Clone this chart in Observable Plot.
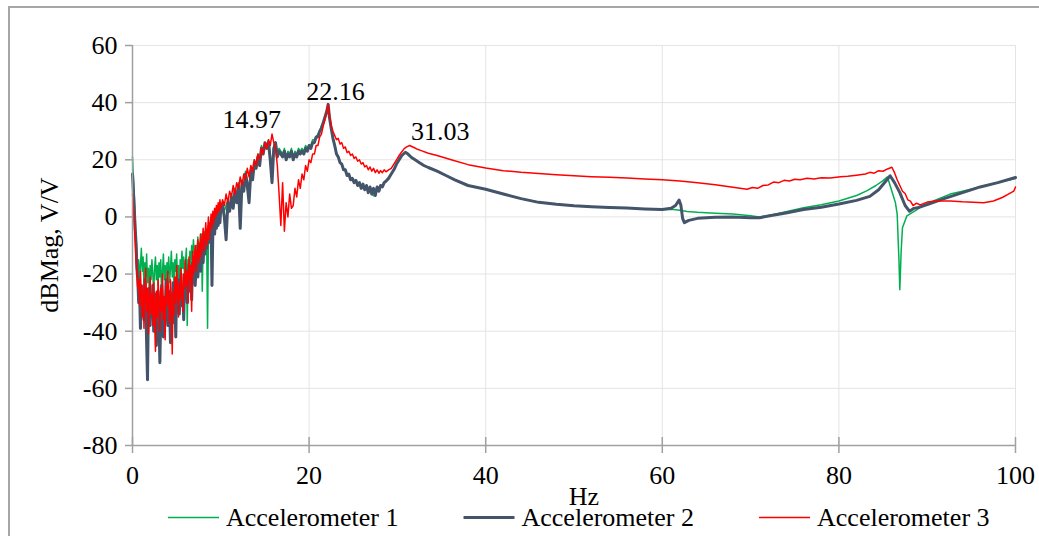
<!DOCTYPE html>
<html>
<head>
<meta charset="utf-8">
<script src="https://cdn.jsdelivr.net/npm/d3@7"></script>
<script src="https://cdn.jsdelivr.net/npm/@observablehq/plot@0.6"></script>
<style>
  html, body { margin: 0; padding: 0; background: #ffffff; }
  #wrap { position: relative; width: 1039px; height: 536px; overflow: hidden; }
  #frame { position: absolute; left: 8px; top: 6px; width: 1100px; height: 600px;
           border-left: 2px solid #a6a6a6; border-top: 2px solid #a6a6a6; pointer-events: none; }
  #chart { position: absolute; left: 0; top: 0; }
</style>
</head>
<body>
<div id="wrap"><div id="chart"></div><div id="frame"></div></div>
<script>
// ---------------- data ----------------
const seriesNames = ["Accelerometer 1", "Accelerometer 2", "Accelerometer 3"];
const seriesColors = ["#00b050", "#44546a", "#ff0000"];
const seriesWidths = [1.5, 3, 1.5];

const xTicks = [0, 20, 40, 60, 80, 100];
const yTicks = [-80, -60, -40, -20, 0, 20, 40, 60];

const xLabel = "Hz";
const yLabel = "dBMag, V/V";

const peakLabels = ["14.97", "22.16", "31.03"];
const peakLabelHz = [13.5, 23.0, 34.85];
const peakLabelDb = [31.0, 41.1, 27.1];

// low-frequency band, sampled every 0.1 Hz from 0 Hz
const lowGrid = { startHz: 0, stepHz: 0.1 };
const acc1Low = [
  21, 14, 8, 0, -8, -12, -20, -15, -22, -17,
  -11, -19, -14, -24, -16, -21, -13, -23, -18, -26,
  -17, -22, -15, -20, -27, -18, -14, -22, -17, -24,
  -16, -21, -15, -28, -19, -13, -22, -17, -25, -16,
  -20, -14, -23, -18, -12, -21, -16, -24, -15, -19,
  -13, -22, -17, -30, -15, -20, -12, -18, -14, -21,
  -16, -11, -38, -15, -19, -12, -17, -10, -15, -8,
  -13, -18, -10, -14, -7, -12, -9, -15, -6, -26,
  -10, -5, -11, -4, -8, -39, -6, -2, -7, -1,
  -5, 0, -4, 2, -3, 1, -2, 3, 0, 4,
  1
];
const acc2Low = [
  15, 9, 3, -4, -9, -18, -22, -30, -26, -39,
  -24, -33, -28, -36, -22, -30, -44, -57, -31, -25,
  -38, -29, -33, -24, -40, -30, -27, -45, -32, -26,
  -36, -51, -34, -24, -31, -42, -28, -35, -22, -33,
  -38, -26, -31, -44, -27, -32, -23, -37, -29, -42,
  -25, -30, -22, -34, -27, -20, -31, -25, -36, -21,
  -27, -19, -30, -22, -17, -26, -20, -29, -16, -22,
  -14, -24, -18, -12, -21, -15, -10, -19, -13, -8,
  -16, -9, -13, -6, -11, -5, -9, -3, -8, -2,
  -24, -5, -1, -6, 0, -4, 2, -3, 1, -2,
  3
];
const acc3Low = [
  8, 4, -2, -8, -15, -20, -25, -22, -31, -19,
  -28, -35, -24, -39, -27, -18, -33, -25, -41, -29,
  -21, -34, -27, -38, -23, -31, -47, -26, -35, -22,
  -30, -40, -25, -33, -20, -36, -28, -43, -24, -31,
  -19, -29, -37, -22, -32, -48, -26, -34, -21, -30,
  -17, -27, -35, -23, -29, -18, -26, -33, -20, -25,
  -15, -24, -19, -30, -14, -22, -17, -33, -12, -20,
  -15, -10, -19, -13, -8, -16, -11, -6, -14, -9,
  -4, -12, -7, -2, -10, -5, 0, -8, -3, 1,
  -4, 2, -2, 3, 0, 4, 1, 5, 2, 6,
  3
];

// mid band, sampled every 0.2 Hz from 10.2 Hz to 22.0 Hz
const midGrid = { startHz: 10.2, stepHz: 0.2 };
const acc1Mid = [
  5, 2, 4, 6, 3, 8, 5, 10, 7, 12,
  6, 13, 10, 16, 13, 10, 17, 14, 20, 18,
  22, 20, 25, 23, 26, 25, 27, 22, 16, 25,
  26, 23, 24, 23, 22, 24, 21, 23, 22, 24,
  21, 23, 22, 24, 23, 24, 23, 25, 24, 25,
  25, 27, 27, 28, 29, 30, 32, 33, 35, 37
];
const acc2Mid = [
  4, 0, -8, 5, 2, 7, 3, 9, 5, 11,
  -4, 12, 9, 15, 11, 5, 16, 13, 19, 17,
  21, 18, 24, 22, 26, 24, 26, 20, 12, 24,
  26, 21, 23, 22, 21, 23, 20, 22, 21, 23,
  20, 22, 21, 23, 22, 23, 22, 24, 23, 25,
  24, 26, 26, 28, 28, 30, 31, 33, 35, 37
];
const acc3Mid = [
  6, 4, 8, 5, 9, 7, 11, 8, 12, 10,
  14, 11, 15, 13, 17, 14, 18, 16, 20, 18,
  22, 20, 24, 22, 26, 24, 27, 25, 29, 26,
  24, 18, 8, -3, 12, -5, 5, 0, 8, 3,
  4, 10, 7, 13, 10, 15, 13, 18, 16, 20,
  19, 22, 22, 25, 25, 28, 29, 32, 34, 37
];

// upper band, irregular samples
const acc1TailHz = [22.16, 22.3, 22.5, 22.7, 22.9, 23.1, 23.3, 23.5, 23.7, 23.9, 24.1, 24.3, 24.5, 24.7, 24.9, 25.1, 25.3, 25.5, 25.7, 25.9, 26.1, 26.3, 26.5, 26.7, 26.9, 27.1, 27.3, 27.5, 27.7, 27.9, 28.1, 28.3, 28.5, 28.7, 29.0, 29.3, 29.6, 29.9, 30.2, 30.5, 30.9, 31.2, 31.6, 32.0, 32.5, 33.0, 33.5, 34.5, 35.5, 36.5, 38, 40, 42, 44, 46, 48, 50, 52, 54, 56, 58, 60, 61, 62, 62.8, 64, 66, 68, 70, 71, 72, 74, 76, 78, 80, 82, 83.2, 84.2, 85, 85.5, 86, 86.4, 86.6, 86.8, 86.9, 87.05, 87.2, 87.7, 88.3, 88.8, 89.5, 90.7, 92.6, 94, 96, 98, 100];
const acc1TailDb = [39.4, 35, 31, 27.8, 25.2, 22.3, 21.2, 19.3, 18.6, 16.8, 16.6, 14.8, 15, 13.2, 13.6, 12.2, 12.8, 11.2, 12, 10.3, 11.5, 9.8, 11, 8.8, 10.5, 8.3, 7.4, 7.8, 10.5, 9.2, 11, 10.6, 12, 12.6, 13.6, 15.1, 16.6, 18.6, 20.1, 21.6, 22.6, 22, 20.8, 20, 19, 18, 17.3, 16, 14.5, 13, 11, 9.7, 8, 6.4, 5.1, 4.4, 3.9, 3.6, 3.3, 3.1, 2.8, 2.6, 2.7, 2.3, 1.9, 1.6, 1.3, 1, 0.4, 0, 0.4, 1.8, 3.2, 4.3, 5.6, 7.5, 9.2, 11, 12.7, 14, 9, 5, 1, -15, -25.5, -12, -3.8, 0.4, 1.5, 2.5, 4, 5.6, 8, 9, 10.5, 12, 13.4];

const acc2TailHz = [22.16, 22.3, 22.5, 22.7, 22.9, 23.1, 23.3, 23.5, 23.7, 23.9, 24.1, 24.3, 24.5, 24.7, 24.9, 25.1, 25.3, 25.5, 25.7, 25.9, 26.1, 26.3, 26.5, 26.7, 26.9, 27.1, 27.3, 27.5, 27.7, 27.9, 28.1, 28.3, 28.5, 28.7, 29.0, 29.3, 29.6, 29.9, 30.2, 30.5, 30.9, 31.2, 31.6, 32.0, 32.5, 33.0, 33.5, 34.5, 35.5, 36.5, 38, 40, 42, 44, 46, 48, 50, 52, 54, 56, 58, 60, 61, 61.5, 61.9, 62.1, 62.3, 62.5, 63, 64, 66, 68, 70, 71, 72, 74, 76, 78, 80, 82, 83.5, 84.5, 85.3, 85.8, 86.3, 86.9, 87.5, 88, 88.5, 89, 90, 92, 94, 96, 98, 100];
const acc2TailDb = [39.4, 35, 31, 27.5, 25, 22, 21, 19, 18.5, 16.5, 16.5, 14.5, 15, 13, 13.5, 12, 12.8, 11, 12, 10, 11.5, 9.5, 11, 8.5, 10.5, 8, 10, 7.5, 10.5, 9, 11, 10.5, 12, 12.5, 13.5, 15, 16.5, 18.5, 20, 21.5, 22.6, 22, 20.8, 20, 19, 18, 17.3, 16, 14.5, 13, 11, 9.7, 8, 6.4, 5.1, 4.4, 3.9, 3.6, 3.3, 3.1, 2.8, 2.6, 3, 4, 5.9, 4.2, -0.5, -2, -1.2, -0.5, -0.1, 0, -0.3, -0.3, 0.3, 1.4, 2.6, 3.4, 4.5, 5.8, 7.2, 9.5, 12.5, 14.4, 12, 8.5, 4, 2, 3, 3.3, 4.3, 6.5, 8.5, 10.5, 12, 13.8];

const acc3TailHz = [22.16, 22.3, 22.5, 22.7, 22.9, 23.1, 23.3, 23.5, 23.7, 23.9, 24.1, 24.3, 24.5, 24.7, 24.9, 25.1, 25.3, 25.5, 25.7, 25.9, 26.1, 26.3, 26.5, 26.7, 26.9, 27.1, 27.3, 27.5, 27.7, 27.9, 28.1, 28.3, 28.5, 28.7, 29.0, 29.3, 29.6, 29.9, 30.2, 30.5, 30.8, 31.1, 31.4, 31.8, 32.2, 32.7, 33.5, 34.5, 36, 38, 40, 42, 44, 46, 48, 50, 52, 54, 56, 58, 60, 62, 64, 66, 68, 69.6, 70.2, 70.8, 71.4, 72, 72.6, 73.2, 73.8, 74.4, 75, 75.6, 76.4, 77.2, 78, 79, 80.2, 81, 82, 83, 83.5, 84, 84.5, 85, 85.5, 86, 86.3, 86.6, 86.9, 87.2, 87.5, 87.8, 88.1, 88.4, 88.8, 89.2, 90, 91, 92.6, 94, 96.4, 97.5, 98.5, 99.4, 99.8, 100];
const acc3TailDb = [39.4, 36, 32, 30, 28.5, 27, 27.5, 25.5, 26, 24, 24.5, 22.5, 23, 21.5, 22, 20.5, 21, 19.5, 20, 18.5, 19, 17.5, 18, 16.5, 17.5, 16, 17, 15.5, 16.5, 15.3, 16.2, 15.5, 16.5, 15.8, 16.5, 17, 18.5, 20, 21.5, 22.8, 24, 24.6, 25, 24.4, 23.8, 23.2, 22.3, 21.5, 20.1, 18.3, 17.1, 16.2, 15.6, 15.2, 14.8, 14.4, 14.1, 13.9, 13.6, 13.3, 13, 12.6, 12, 11.3, 10.4, 9.7, 10.3, 10, 11, 11.2, 12.2, 12, 12.8, 12.6, 13.2, 13, 13.5, 13.3, 13.7, 13.6, 14.1, 14.2, 14.6, 15, 15.6, 15.3, 16.2, 16, 16.8, 17.4, 15.5, 13, 11, 9, 8.2, 6, 5.5, 4, 4.8, 4.2, 5.2, 5.6, 5.6, 5.3, 5, 5.6, 6.8, 8.3, 9, 10.5];

// ---------------- build table ----------------
function buildRows(name, low, mid, tailHz, tailDb) {
  const rows = [];
  low.forEach((db, i) => rows.push({ series: name, hz: +(lowGrid.startHz + i * lowGrid.stepHz).toFixed(2), db }));
  mid.forEach((db, i) => rows.push({ series: name, hz: +(midGrid.startHz + i * midGrid.stepHz).toFixed(2), db }));
  tailHz.forEach((hz, i) => rows.push({ series: name, hz, db: tailDb[i] }));
  return rows;
}
const seriesRows = [
  buildRows(seriesNames[0], acc1Low, acc1Mid, acc1TailHz, acc1TailDb),
  buildRows(seriesNames[1], acc2Low, acc2Mid, acc2TailHz, acc2TailDb),
  buildRows(seriesNames[2], acc3Low, acc3Mid, acc3TailHz, acc3TailDb)
];
const peaks = peakLabels.map((label, i) => ({ label, hz: peakLabelHz[i], db: peakLabelDb[i] }));

const axisGray = "#a0a0a0";
const gridGray = "#e4e4e4";
const serif = "Liberation Serif";

const chart = Plot.plot({
  width: 1039,
  height: 536,
  marginLeft: 132,
  marginRight: 24,
  marginTop: 45,
  marginBottom: 91,
  x: { domain: [0, 100] },
  y: { domain: [-80, 60] },
  style: { fontFamily: serif, fontSize: "26px", background: "transparent", color: "#000" },
  marks: [
    Plot.gridY(yTicks, { stroke: gridGray, strokeOpacity: 1, strokeWidth: 1 }),
    Plot.gridX(xTicks, { stroke: gridGray, strokeOpacity: 1, strokeWidth: 1 }),
    ...seriesRows.map((rows, i) => Plot.line(rows, {
      x: "hz", y: "db", stroke: seriesColors[i], strokeWidth: seriesWidths[i], strokeLinejoin: "round"
    })),
    Plot.ruleX([0], { stroke: axisGray, strokeWidth: 1.5 }),
    Plot.ruleY([-80], { stroke: axisGray, strokeWidth: 1.5 }),
    Plot.ruleX(xTicks, { x: d => d, y1: -80, y2: -80, insetTop: -8, insetBottom: -8, stroke: axisGray, strokeWidth: 1.5 }),
    Plot.axisY(yTicks, { tickSize: 7, tickPadding: 8, stroke: axisGray, strokeWidth: 1.5, fill: "#000", label: null, fontFamily: serif, fontSize: 26, tickFormat: d => String(d) }),
    Plot.axisX(xTicks, { tickSize: 0, tickPadding: 20, fill: "#000", label: null, fontFamily: serif, fontSize: 26, tickFormat: d => String(d) }),
    Plot.text(peaks, { x: "hz", y: "db", text: "label", textAnchor: "middle", lineAnchor: "bottom", fill: "#000", fontFamily: serif, fontSize: 26 })
  ]
});
document.getElementById("chart").appendChild(chart);

// axis titles and legend
const svg = d3.select(chart);
svg.append("text")
  .attr("transform", "translate(58,245) rotate(-90)")
  .attr("text-anchor", "middle")
  .attr("fill", "#000")
  .text(yLabel);
svg.append("text")
  .attr("x", 584).attr("y", 505)
  .attr("text-anchor", "middle")
  .attr("fill", "#000")
  .text(xLabel);

const lg = svg.append("g").attr("fill", "#000").attr("text-anchor", "start");
let lx = 168;
seriesNames.forEach((name, i) => {
  lg.append("line")
    .attr("x1", lx).attr("x2", lx + 51)
    .attr("y1", 517.5).attr("y2", 517.5)
    .attr("stroke", seriesColors[i]).attr("stroke-width", seriesWidths[i]);
  const t = lg.append("text").attr("x", lx + 58).attr("y", 526).attr("text-anchor", "start").text(name);
  const w = t.node().getComputedTextLength();
  lx += 58 + w + 65;
});

svg.selectAll("text")
  .style("font-family", "'Liberation Serif', 'Times New Roman', serif", "important")
  .style("font-size", "26px", "important");
</script>
</body>
</html>
